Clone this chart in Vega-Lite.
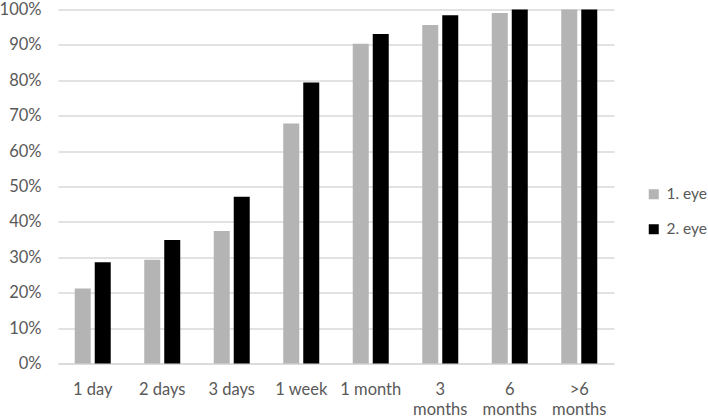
{
  "$schema": "https://vega.github.io/schema/vega-lite/v6.json",
  "autosize": "none",
  "width": 556,
  "height": 354,
  "padding": {"left": 58, "top": 9.5, "right": 94, "bottom": 54},
  "background": "white",
  "data": {
    "values": [
      {"period": "1 day", "eye": "1. eye", "value": 0.212},
      {"period": "1 day", "eye": "2. eye", "value": 0.286},
      {"period": "2 days", "eye": "1. eye", "value": 0.293},
      {"period": "2 days", "eye": "2. eye", "value": 0.349},
      {"period": "3 days", "eye": "1. eye", "value": 0.374},
      {"period": "3 days", "eye": "2. eye", "value": 0.471},
      {"period": "1 week", "eye": "1. eye", "value": 0.678},
      {"period": "1 week", "eye": "2. eye", "value": 0.794},
      {"period": "1 month", "eye": "1. eye", "value": 0.903},
      {"period": "1 month", "eye": "2. eye", "value": 0.931},
      {"period": "3 months", "eye": "1. eye", "value": 0.956},
      {"period": "3 months", "eye": "2. eye", "value": 0.984},
      {"period": "6 months", "eye": "1. eye", "value": 0.99},
      {"period": "6 months", "eye": "2. eye", "value": 1.0},
      {"period": ">6 months", "eye": "1. eye", "value": 1.0},
      {"period": ">6 months", "eye": "2. eye", "value": 1.0}
    ]
  },
  "mark": {"type": "bar"},
  "encoding": {
    "x": {
      "field": "period",
      "type": "nominal",
      "sort": ["1 day", "2 days", "3 days", "1 week", "1 month", "3 months", "6 months", ">6 months"],
      "scale": {"paddingInner": 0.4245, "paddingOuter": 0.212},
      "axis": {
        "title": null,
        "labelAngle": 0,
        "labelFont": "Lato",
        "labelFontSize": 16.5,
        "labelColor": "#595959",
        "labelPadding": 18,
        "labelLineHeight": 20,
        "labelBaseline": "top",
        "ticks": false,
        "domainColor": "#d9d9d9",
        "domainWidth": 1.5,
        "labelExpr": "indexof(datum.label, 'months') >= 0 ? split(datum.label, ' ') : datum.label"
      }
    },
    "xOffset": {
      "field": "eye",
      "type": "nominal",
      "scale": {"paddingInner": 0.2, "paddingOuter": 0.1}
    },
    "y": {
      "field": "value",
      "type": "quantitative",
      "scale": {"domain": [0, 1], "nice": false},
      "axis": {
        "title": null,
        "format": ".0%",
        "values": [0, 0.1, 0.2, 0.3, 0.4, 0.5, 0.6, 0.7, 0.8, 0.9, 1.0],
        "labelFont": "Lato",
        "labelFontSize": 16.5,
        "labelColor": "#595959",
        "labelPadding": 17,
        "ticks": false,
        "domain": false,
        "gridColor": "#d9d9d9",
        "gridWidth": 1.5
      }
    },
    "color": {
      "field": "eye",
      "type": "nominal",
      "scale": {"domain": ["1. eye", "2. eye"], "range": ["#b4b4b4", "#000000"]},
      "legend": {
        "title": null,
        "orient": "none",
        "legendX": 588,
        "legendY": 177,
        "symbolType": "square",
        "symbolSize": 100,
        "symbolStrokeWidth": 0,
        "labelFont": "Lato",
        "labelFontSize": 15.5,
        "labelColor": "#595959",
        "labelOffset": 5,
        "rowPadding": 18
      }
    }
  },
  "config": {"view": {"stroke": null}}
}
